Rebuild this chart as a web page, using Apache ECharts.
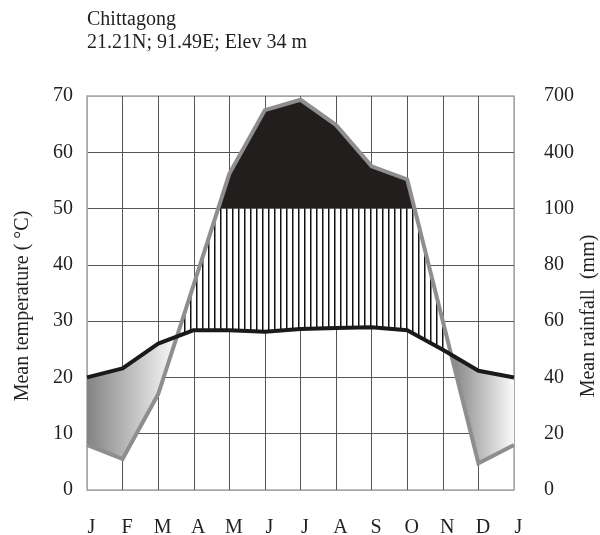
<!DOCTYPE html>
<html><head><meta charset="utf-8">
<script src="https://cdn.jsdelivr.net/npm/echarts@6/dist/echarts.min.js"></script>
<style>html,body{margin:0;padding:0;background:#fff}#c{width:600px;height:535px}</style>
</head><body><div id="c"></div>
<script>
// ---- data ----
const months = ['J','F','M','A','M','J','J','A','S','O','N','D','J'];
const tempC  = [20.0, 21.6, 26.0, 28.4, 28.4, 28.1, 28.6, 28.8, 28.9, 28.4, 24.9, 21.2];
const rainMm = [16, 11, 34, 73, 285, 625, 680, 545, 325, 255, 60, 9.5];
const tempTicks = ['0','10','20','30','40','50','60','70'];
const rainTicks = ['0','20','40','60','80','100','400','700'];
const stationName = 'Chittagong';
const stationInfo = '21.21N; 91.49E; Elev 34 m';
const leftTitle = 'Mean temperature ( \u00B0C)';
const rightTitle = 'Mean rainfall  (mm)';

// Walter-Lieth scale: 20 mm per 10 degC up to 100 mm, above that 300 mm per 10 degC
function rainToScale(mm){ return mm <= 100 ? mm / 2 : 50 + (mm - 100) / 30; }
const cycT = tempC.concat([tempC[0]]);
const cycR = rainMm.concat([rainMm[0]]).map(rainToScale);
const tempData = cycT.map((v, i) => [i, v]);
const rainData = cycR.map((v, i) => [i, v]);

// ---- geometry: split the area between the curves at their crossings ----
function withCrossings(){
  const pts = [];
  for (let i = 0; i < cycT.length; i++) {
    pts.push({x: i, t: cycT[i], r: cycR[i]});
    if (i === cycT.length - 1) break;
    const t0 = cycT[i], t1 = cycT[i+1], r0 = cycR[i], r1 = cycR[i+1];
    const ss = [];
    const d0 = r0 - t0, d1 = r1 - t1;
    if (d0 * d1 < 0) ss.push(d0 / (d0 - d1));
    const e0 = r0 - 50, e1 = r1 - 50;
    if (e0 * e1 < 0) ss.push(e0 / (e0 - e1));
    ss.sort((a, b) => a - b);
    ss.forEach(s => pts.push({x: i + s, t: t0 + (t1 - t0) * s, r: r0 + (r1 - r0) * s}));
  }
  return pts;
}
function regions(pts, test, upper, lower){
  const out = []; let run = null;
  for (let k = 0; k < pts.length - 1; k++) {
    const p = pts[k], q = pts[k+1];
    const m = {x: (p.x + q.x) / 2, t: (p.t + q.t) / 2, r: (p.r + q.r) / 2};
    if (test(m)) { if (!run) run = [p]; run.push(q); }
    else if (run) { out.push(run); run = null; }
  }
  if (run) out.push(run);
  return out.map(run => run.map(p => [p.x, upper(p)]).concat(run.slice().reverse().map(p => [p.x, lower(p)])));
}
const P = withCrossings();
const dryPolys   = regions(P, m => m.r < m.t, p => p.t, p => p.r);
const humidPolys = regions(P, m => m.r > m.t, p => Math.min(p.r, 50), p => p.t);
const wetPolys   = regions(P, m => m.r > 50, p => p.r, p => 50);

// hatch pattern
const hatch = document.createElement('canvas');
hatch.width = 6; hatch.height = 6;
const hc = hatch.getContext('2d');
hc.fillStyle = '#ffffff'; hc.fillRect(0, 0, 6, 6);
hc.fillStyle = '#111111'; hc.fillRect(4, 0, 1.5, 6);

function polySeries(polys, styleFn, z){
  return {
    type: 'custom', coordinateSystem: 'cartesian2d', silent: true, z: z,
    data: [[0, 0]],
    renderItem: (params, api) => ({
      type: 'group',
      children: polys.map(poly => ({
        type: 'polygon',
        shape: {points: poly.map(p => api.coord(p))},
        style: styleFn()
      }))
    })
  };
}

const FONT = 'Liberation Serif';
const TXT = '#231f20';
const xLineColors = months.map((m, i) => (i === 0 || i === months.length - 1) ? '#a8a8a8' : '#555555');
const yLineColors = tempTicks.map((m, i) => (i === 0 || i === tempTicks.length - 1) ? '#a8a8a8' : '#555555');

const chart = echarts.init(document.getElementById('c'), null, {renderer: 'canvas'});
chart.setOption({
  animation: false,
  backgroundColor: '#ffffff',
  title: {
    text: stationName + '\n' + stationInfo,
    left: 87, top: 8, padding: 0,
    textStyle: {fontFamily: FONT, fontSize: 20, fontWeight: 'normal', color: TXT, lineHeight: 23}
  },
  grid: {left: 87, right: 86, top: 96, height: 394, outerBoundsMode: 'none', containLabel: false,
         show: true, borderColor: '#a8a8a8', borderWidth: 1.5, backgroundColor: '#ffffff'},
  xAxis: {
    type: 'value', min: 0, max: 12, interval: 1,
    axisLine: {show: false}, axisTick: {show: false},
    axisLabel: {formatter: v => months[v], fontFamily: FONT, fontSize: 20, color: TXT, margin: 28, padding: [0, 0, 0, 9]},
    splitLine: {show: true, lineStyle: {color: xLineColors, width: 1}}
  },
  yAxis: [{
    type: 'value', min: 0, max: 70, interval: 10, position: 'left',
    axisLine: {show: false}, axisTick: {show: false},
    axisLabel: {formatter: v => tempTicks[Math.round(v / 10)], fontFamily: FONT, fontSize: 20, color: TXT, margin: 14},
    splitLine: {show: true, lineStyle: {color: yLineColors, width: 1}}
  }, {
    type: 'value', min: 0, max: 70, interval: 10, position: 'right',
    axisLine: {show: false}, axisTick: {show: false},
    axisLabel: {formatter: v => rainTicks[Math.round(v / 10)], fontFamily: FONT, fontSize: 20, color: TXT, margin: 30},
    splitLine: {show: false}
  }],
  graphic: [
    {type: 'text', x: 23, y: 306, rotation: Math.PI / 2, silent: true,
     style: {text: leftTitle, font: '20px "' + FONT + '"', fill: TXT, align: 'center', verticalAlign: 'middle'}},
    {type: 'text', x: 589, y: 316, rotation: Math.PI / 2, silent: true,
     style: {text: rightTitle, font: '20px "' + FONT + '"', fill: TXT, align: 'center', verticalAlign: 'middle'}}
  ],
  series: [
    polySeries(dryPolys, () => ({fill: new echarts.graphic.LinearGradient(0, 0, 1, 0, [
      {offset: 0, color: '#838383'}, {offset: 1, color: '#fbfbfb'}])}), 2),
    polySeries(humidPolys, () => ({fill: {image: hatch, repeat: 'repeat'}}), 2),
    polySeries(wetPolys, () => ({fill: '#221e1d'}), 2),
    {type: 'line', data: rainData, symbol: 'none', z: 3, silent: true,
     lineStyle: {color: '#8e8e8e', width: 4, join: 'miter'}},
    {type: 'line', data: tempData, symbol: 'none', z: 4, silent: true,
     lineStyle: {color: '#1b1919', width: 4, join: 'round'}}
  ]
});
</script>
</body></html>
